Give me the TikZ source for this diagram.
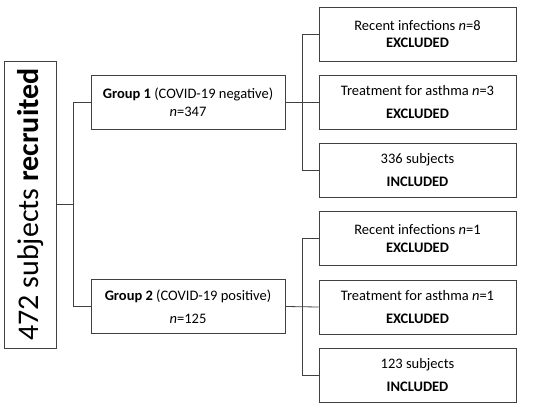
\documentclass[tikz,border=0pt]{standalone}
\usepackage{fontspec}
\setmainfont{Carlito}
\newcommand{\nn}{\textit{n}}
\begin{document}
\begin{tikzpicture}[x = 1pt, y = -1pt,
    box/.style = {draw = black!75, line width = .9pt, align = center,
      inner sep = 0pt, font = \fontsize{14.5}{17.5}\selectfont},
    grp/.style = {box, minimum width = 194pt, minimum height = 54pt},
    sub/.style = {box, minimum width = 197pt, minimum height = 54pt},
    wire/.style = {draw = black!75, line width = .8pt}]
  \useasboundingbox (0,0) rectangle (550,408);
  \node [box, minimum width = 52pt, minimum height = 287pt] (main)
    at (30.7,204.5) {};
  \node [rotate = 90, font = \fontsize{30}{34}\selectfont] at (main.center)
    {472 subjects \textbf{recruited}};
  \node [grp] (g1) at (188,102) {\textbf{Group 1} (COVID-19 negative)\\\nn=347};
  \node [grp] (g2) at (188,306.5)
    {\textbf{Group 2} (COVID-19 positive)\\[5pt]\nn=125};
  \node [sub] (r1) at (417.5,34) {Recent infections \nn=8\\\textbf{EXCLUDED}};
  \node [sub] (r2) at (417.5,102)
    {Treatment for asthma \nn=3\\[5pt]\textbf{EXCLUDED}};
  \node [sub] (r3) at (417.5,170) {336 subjects\\[5pt]\textbf{INCLUDED}};
  \node [sub] (r4) at (417.5,238.5) {Recent infections \nn=1\\\textbf{EXCLUDED}};
  \node [sub] (r5) at (417.5,307)
    {Treatment for asthma \nn=1\\[5pt]\textbf{EXCLUDED}};
  \node [sub] (r6) at (417.5,375) {123 subjects\\[5pt]\textbf{INCLUDED}};
  \coordinate (b0) at (73,0);
  \coordinate (b1) at (302,0);
  \draw [wire] (main.east) -- (b0 |- main.east);
  \draw [wire] (g1.west) -- (b0 |- g1.west) -- (b0 |- g2.west) -- (g2.west);
  \foreach \g/\a/\b/\c in {g1/r1/r2/r3, g2/r4/r5/r6} {
    \draw [wire] (\a.west) -- (b1 |- \a.west) -- (b1 |- \c.west) -- (\c.west);
    \draw [wire] (\g.east) -- (\b.west);
  }
\end{tikzpicture}
\end{document}
